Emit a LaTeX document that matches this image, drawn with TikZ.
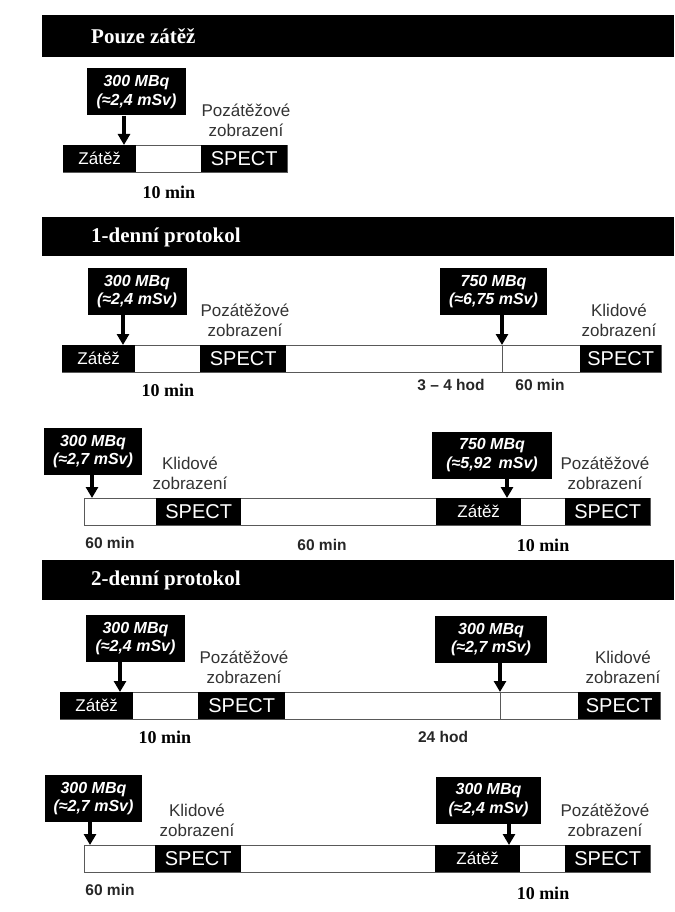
\documentclass[tikz,border=0pt]{standalone}
\usepackage{fontspec}
\setmainfont{Liberation Sans}
\newfontfamily\serifhead{Liberation Serif}
\usetikzlibrary{%
	arrows.meta,%
	positioning,%
	calc,%
}
\tikzset{
	>=Triangle,%
	nodes={align=center},%
	headbar/.style={%
			fill=black,%
			anchor=north west,%
			minimum width=632pt,%
			inner sep=0},%
	headtitle/.style={%
			text=white,%
			anchor=west,%
			inner sep=0,%
			font=\serifhead\bfseries\fontsize{21}{23}\selectfont},%
	dosebox/.style={%
			fill=black,%
			text=white,%
			minimum height=47pt,%
			inner sep=0,%
			font=\bfseries\itshape\fontsize{16}{18.5}\selectfont},%
	track/.style={%
			draw=black!65,%
			line width=1.1pt,%
			fill=white,%
			anchor=north west,%
			minimum height=27pt,%
			inner sep=0},%
	blackseg/.style={%
			fill=black,%
			text=white,%
			anchor=north west,%
			minimum height=27pt,%
			inner sep=0},%
	spect/.style={blackseg, font=\fontsize{20}{22}\selectfont},%
	zatez/.style={blackseg, font=\fontsize{17}{19}\selectfont},%
	imglabel/.style={%
			anchor=south,%
			inner sep=0,%
			text=black!80,%
			font=\fontsize{17}{20}\selectfont},%
	minser/.style={%
			inner sep=0,%
			font=\serifhead\bfseries\fontsize{18}{20}\selectfont},%
	minsans/.style={%
			inner sep=0,%
			text=black!85,%
			font=\bfseries\fontsize{15.5}{17}\selectfont},%
	dosearrow/.style={%
			line width=3.6pt,%
			-{Triangle[length=11pt,width=12pt]}},%
	divline/.style={draw=black!65, line width=0.8pt},%
}

\begin{document}
\begin{tikzpicture}[x=1pt,y=-1pt]
	\useasboundingbox[fill=white] (0,0) rectangle (674,912);

	% Pouze zatez
	\node[headbar, minimum height=42pt] (h1) at (42,15) {};
	\node[headtitle] (h1t) at (91,36) {Pouze zátěž};
	\node[dosebox, minimum width=99pt] (d11) at (136.5,92) {300 MBq\\(≈2,4 mSv)};
	\node[track, minimum width=224pt] (t1) at (63,145) {};
	\node[zatez, minimum width=73pt] (z11) at (63,145) {Zátěž};
	\node[spect, minimum width=86pt] (s11) at (201,145) {SPECT};
	\coordinate (a11) at (124,145);
	\draw[dosearrow] (d11.south -| a11) -- (a11);
	\node[imglabel] (p11) at (246,137) {Pozátěžové\\zobrazení};
	\node[minser] (n11) at (169,192) {10 min};

	% 1-denni protokol
	\node[headbar, minimum height=39pt] (h2) at (42,217) {};
	\node[headtitle] (h2t) at (91,237) {1-denní protokol};
	\node[dosebox, minimum width=99pt] (d21) at (137,291.5) {300 MBq\\(≈2,4 mSv)};
	\node[dosebox, minimum width=107pt] (d22) at (493.5,291.5) {750 MBq\\(≈6,75 mSv)};
	\node[track, minimum width=599pt] (t2) at (62,345) {};
	\node[zatez, minimum width=73pt] (z21) at (62,345) {Zátěž};
	\node[spect, minimum width=86pt] (s21) at (200,345) {SPECT};
	\node[spect, minimum width=81pt] (s22) at (580,345) {SPECT};
	\coordinate (a21) at (123,345);
	\coordinate (a22) at (502,345);
	\draw[divline] (a22) -- (a22 |- t2.south);
	\draw[dosearrow] (d21.south -| a21) -- (a21);
	\draw[dosearrow] (d22.south -| a22) -- (a22);
	\node[imglabel] (p21) at (245,337) {Pozátěžové\\zobrazení};
	\node[imglabel] (p22) at (619,337) {Klidové\\zobrazení};
	\node[minser] (n21) at (168,390) {10 min};
	\node[minsans] (n22) at (451,385) {3 – 4 hod};
	\node[minsans] (n23) at (540,385) {60 min};

	\node[dosebox, minimum width=98pt] (d31) at (93,451.5) {300 MBq\\(≈2,7 mSv)};
	\node[dosebox, minimum width=120pt] (d32) at (492,455) {750 MBq\\(≈5,92 \,mSv)};
	\node[track, minimum width=566pt] (t3) at (84,498) {};
	\node[spect, minimum width=85pt] (s31) at (156,498) {SPECT};
	\node[zatez, minimum width=85pt] (z31) at (436,498) {Zátěž};
	\node[spect, minimum width=85pt] (s32) at (565,498) {SPECT};
	\coordinate (a31) at (92,498);
	\coordinate (a32) at (507,498);
	\draw[dosearrow] (d31.south -| a31) -- (a31);
	\draw[dosearrow] (d32.south -| a32) -- (a32);
	\node[imglabel] (p31) at (190,490) {Klidové\\zobrazení};
	\node[imglabel] (p32) at (605,490) {Pozátěžové\\zobrazení};
	\node[minsans] (n31) at (110,543) {60 min};
	\node[minsans] (n32) at (322,545) {60 min};
	\node[minser] (n33) at (543,545) {10 min};

	% 2-denni protokol
	\node[headbar, minimum height=40pt] (h3) at (42,560) {};
	\node[headtitle] (h3t) at (91,580) {2-denní protokol};
	\node[dosebox, minimum width=99pt] (d41) at (135.5,638.5) {300 MBq\\(≈2,4 mSv)};
	\node[dosebox, minimum width=112pt] (d42) at (491,639.5) {300 MBq\\(≈2,7 mSv)};
	\node[track, minimum width=600pt] (t4) at (60,692) {};
	\node[zatez, minimum width=73pt] (z41) at (60,692) {Zátěž};
	\node[spect, minimum width=87pt] (s41) at (198,692) {SPECT};
	\node[spect, minimum width=82pt] (s42) at (578,692) {SPECT};
	\coordinate (a41) at (120,692);
	\coordinate (a42) at (500,692);
	\draw[divline] (a42) -- (a42 |- t4.south);
	\draw[dosearrow] (d41.south -| a41) -- (a41);
	\draw[dosearrow] (d42.south -| a42) -- (a42);
	\node[imglabel] (p41) at (244,684) {Pozátěžové\\zobrazení};
	\node[imglabel] (p42) at (623,684) {Klidové\\zobrazení};
	\node[minser] (n41) at (165,737) {10 min};
	\node[minsans] (n42) at (443,737) {24 hod};

	\node[dosebox, minimum width=97pt] (d51) at (93.5,798.5) {300 MBq\\(≈2,7 mSv)};
	\node[dosebox, minimum width=105pt] (d52) at (488.5,800) {300 MBq\\(≈2,4 mSv)};
	\node[track, minimum width=566pt] (t5) at (84,845) {};
	\node[spect, minimum width=86pt] (s51) at (155,845) {SPECT};
	\node[zatez, minimum width=85pt] (z51) at (435,845) {Zátěž};
	\node[spect, minimum width=85pt] (s52) at (565,845) {SPECT};
	\coordinate (a51) at (90,845);
	\coordinate (a52) at (509,845);
	\draw[dosearrow] (d51.south -| a51) -- (a51);
	\draw[dosearrow] (d52.south -| a52) -- (a52);
	\node[imglabel] (p51) at (197,837) {Klidové\\zobrazení};
	\node[imglabel] (p52) at (605,837) {Pozátěžové\\zobrazení};
	\node[minsans] (n51) at (110,890) {60 min};
	\node[minser] (n52) at (543,893) {10 min};
\end{tikzpicture}
\end{document}
